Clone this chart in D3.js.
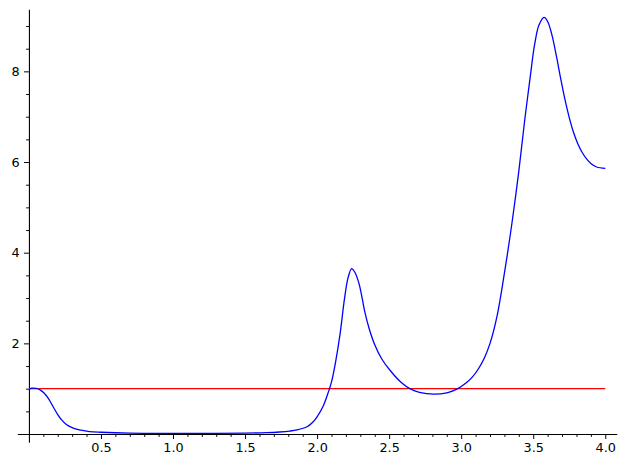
<!DOCTYPE html>
<html>
<head>
<meta charset="utf-8">
<script src="https://cdn.jsdelivr.net/npm/d3@7"></script>
<style>
  body { margin: 0; background: #fff; }
  svg { display: block; }
  .tick text { font-family: "DejaVu Sans", sans-serif; font-size: 12.8px; fill: #000; }
  .tick line, .domain { stroke: #000; }
</style>
</head>
<body>
<div id="chart"></div>
<script>
var curveX = [0.005, 0.02, 0.05, 0.08, 0.11, 0.14, 0.17, 0.20, 0.23, 0.26, 0.30, 0.35, 0.42, 0.5, 0.7, 1.0, 1.3, 1.5,
  1.65, 1.74, 1.81, 1.86, 1.93, 1.97, 2.00, 2.04, 2.07, 2.10, 2.13, 2.16, 2.19, 2.215, 2.24, 2.26, 2.29, 2.31, 2.33,
  2.36, 2.40, 2.45, 2.51, 2.58, 2.65, 2.71, 2.81, 2.90, 2.97, 3.04, 3.08, 3.12, 3.16, 3.20, 3.25, 3.30, 3.35, 3.40,
  3.44, 3.48, 3.51, 3.54, 3.575, 3.60, 3.63, 3.66, 3.69, 3.72, 3.75, 3.78, 3.81, 3.84, 3.87, 3.90, 3.94, 4.0];
var curveY = [1.0, 1.01, 1.005, 0.97, 0.89, 0.76, 0.59, 0.43, 0.30, 0.21, 0.14, 0.09, 0.055, 0.04, 0.02, 0.015, 0.015, 0.02,
  0.03, 0.045, 0.065, 0.09, 0.16, 0.26, 0.38, 0.60, 0.85, 1.15, 1.62, 2.22, 2.98, 3.45, 3.65, 3.58, 3.33, 3.04, 2.71,
  2.34, 1.97, 1.65, 1.39, 1.15, 0.99, 0.92, 0.88, 0.91, 0.99, 1.14, 1.265, 1.44, 1.67, 2.0, 2.62, 3.55, 4.6, 5.8,
  6.9, 7.9, 8.6, 9.02, 9.19, 9.10, 8.80, 8.35, 7.85, 7.38, 6.98, 6.65, 6.40, 6.21, 6.07, 5.97, 5.89, 5.86];

// horizontal reference line
var refX = [0, 4];
var refY = [1, 1];

var xMajor = [0.5, 1.0, 1.5, 2.0, 2.5, 3.0, 3.5, 4.0];
var xMinor = [0.1, 0.2, 0.3, 0.4, 0.6, 0.7, 0.8, 0.9, 1.1, 1.2, 1.3, 1.4, 1.6, 1.7, 1.8, 1.9,
  2.1, 2.2, 2.3, 2.4, 2.6, 2.7, 2.8, 2.9, 3.1, 3.2, 3.3, 3.4, 3.6, 3.7, 3.8, 3.9];
var yMajor = [2, 4, 6, 8];
var yMinor = [0.5, 1, 1.5, 2.5, 3, 3.5, 4.5, 5, 5.5, 6.5, 7, 7.5, 8.5, 9];

var width = 626, height = 468;

var svg = d3.select("#chart")
  .append("svg")
  .attr("width", width)
  .attr("height", height)
;

var x = d3.scaleLinear().domain([-0.08, 4.08]).range([17.4, 616.8]);
var y = d3.scaleLinear().domain([-0.18, 9.37]).range([442.2, 9.25]);

drawAxes();
drawLine(refX, refY, "#ff0000");
drawLine(curveX, curveY, "#0000ff");

function drawAxes(){
  // minor ticks first, no labels
  svg.append("g")
    .attr("transform", "translate(0," + y(0) + ")")
    .call(d3.axisBottom(x).tickValues(xMinor).tickSize(2.8).tickFormat(""))
    .call(function(g){ g.select(".domain").remove(); })
  ;
  svg.append("g")
    .attr("transform", "translate(" + x(0) + ",0)")
    .call(d3.axisLeft(y).tickValues(yMinor).tickSize(2.8).tickFormat(""))
    .call(function(g){ g.select(".domain").remove(); })
  ;

  svg.append("g")
    .attr("transform", "translate(0," + y(0) + ")")
    .call(d3.axisBottom(x).tickValues(xMajor).tickSize(4.9).tickSizeOuter(0)
      .tickPadding(4).tickFormat(d3.format(".1f")))
  ;
  svg.append("g")
    .attr("transform", "translate(" + x(0) + ",0)")
    .call(d3.axisLeft(y).tickValues(yMajor).tickSize(4.9).tickSizeOuter(0)
      .tickPadding(4.5).tickFormat(d3.format("d")))
  ;
  svg.selectAll(".tick line").attr("stroke-width", 1);
  svg.selectAll(".domain").attr("stroke-width", 1.1);
}

function drawLine(xs, ys, color){
  var pts = xs.map(function(d, i){ return [d, ys[i]]; });
  svg.append("path")
    .datum(pts)
    .attr("fill", "none")
    .attr("stroke", color)
    .attr("stroke-width", 1.3)
    .attr("d", d3.line()
      .x(function(d){ return x(d[0]); })
      .y(function(d){ return y(d[1]); })
      .curve(d3.curveCatmullRom.alpha(0.5)))
  ;
}
</script>
</body>
</html>
